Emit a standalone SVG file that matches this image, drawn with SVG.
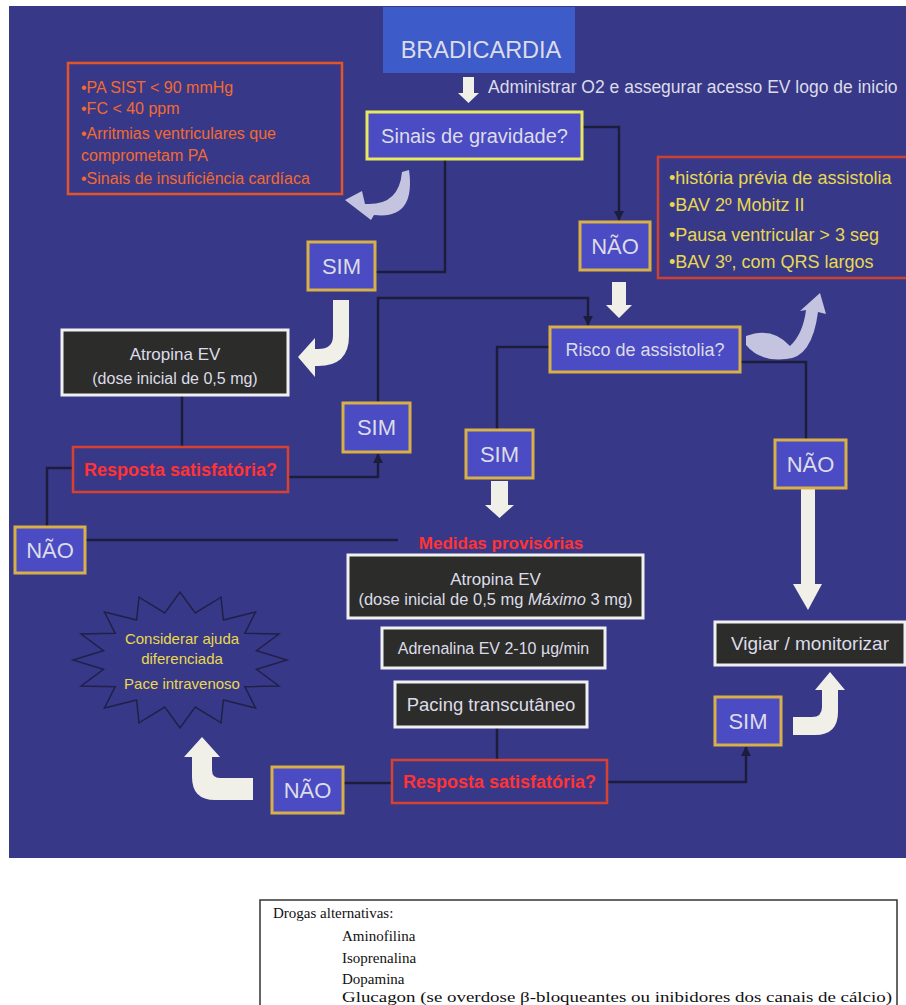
<svg xmlns="http://www.w3.org/2000/svg" width="906" height="1005" viewBox="0 0 906 1005">
<defs>
<style>
.bg{fill:#383888}
.t{font-family:"Liberation Sans",Arial,sans-serif;fill:#dcdce8;text-anchor:middle}
.dec{fill:#4b4bc4;stroke:#d8b048;stroke-width:3}
.dk{fill:#2c2c2a;stroke:#f0f0f0;stroke-width:3}
.rs{fill:none;stroke:#d84030;stroke-width:2.5}
.rt{font-family:"Liberation Sans",Arial,sans-serif;fill:#ff3333;font-weight:bold;text-anchor:middle}
.ln{fill:none;stroke:#1c1c3c;stroke-width:2.5}
.wa{fill:#f0f0e8}
.la{fill:#c4c4e0}
.ot{font-family:"Liberation Sans",Arial,sans-serif;fill:#f26a30;font-size:16px}
.yt{font-family:"Liberation Sans",Arial,sans-serif;fill:#e8d850;font-size:18px}
.st{font-family:"Liberation Sans",Arial,sans-serif;fill:#e8d850;font-size:15px;text-anchor:middle}
.yn{font-size:22px}
.bt{font-family:"Liberation Serif","Times New Roman",serif;fill:#111;font-size:15px}
</style>
<marker id="ah" viewBox="0 0 10 10" refX="9" refY="5" markerWidth="4" markerHeight="4" orient="auto">
<path d="M0,0 L10,5 L0,10 Z" fill="#1c1c3c"/>
</marker>
</defs>
<rect x="0" y="0" width="906" height="1005" fill="#ffffff"/>
<rect class="bg" x="9" y="6" width="897" height="852"/>

<g id="connectors">
<polyline class="ln" points="582,127 619,127 619,220" marker-end="url(#ah)"/>
<polyline class="ln" points="445,159 445,272 375,272"/>
<polyline class="ln" points="182,395 182,447"/>
<polyline class="ln" points="73,468 47,468 47,527"/>
<polyline class="ln" points="85,540 398,540"/>
<polyline class="ln" points="288,477 378,477 378,454" marker-end="url(#ah)"/>
<polyline class="ln" points="378,402 378,298 588,298 588,325" marker-end="url(#ah)"/>
<polyline class="ln" points="550,347 497,347 497,430"/>
<polyline class="ln" points="740,362 806,362 806,440"/>
<polyline class="ln" points="497,727 497,760"/>
<polyline class="ln" points="392,783 343,783"/>
<polyline class="ln" points="607,782 746,782 746,747" marker-end="url(#ah)"/>
<!-- block arrows -->
<path class="wa" d="M463,77 L474,77 L474,93 L479,93 L468.5,103 L458,93 L463,93 Z"/>
<path class="wa" d="M612,282 L626,282 L626,305 L632,305 L619,318 L606,305 L612,305 Z"/>
<path class="wa" d="M491,481 L508,481 L508,505 L514,505 L499.5,518 L485,505 L491,505 Z"/>
<path class="wa" d="M801,488 L815,488 L815,584 L822,584 L808,610 L793,584 L801,584 Z"/>
<!-- curved thick arrows -->
<path class="wa" d="M333,300 L349,300 L349,336 Q349,366 318,366 L315,366 L315,377 L298,357 L315,338 L315,349 L318,349 Q333,349 333,336 Z"/>
<path class="wa" d="M253,778 L253,800 L215,800 Q192,800 192,777 L192,757 L184,757 L202,737 L220,757 L212,757 L212,770 Q212,778 220,778 Z"/>
<path class="wa" d="M793,717 L812,717 Q822,717 822,707 L822,690 L815,690 L830,672 L845,690 L838,690 L838,712 Q838,735 815,735 L793,735 Z"/>
<!-- lavender curved arrows -->
<path class="la" d="M402,172 L409,170 Q416,220 374,215 L371,220 L345,200 L362,191 L365,204 Q399,206 402,172 Z"/>
<path class="la" d="M746,336 Q772,326 790,346 Q803,334 806,310 L800,311 L820,293 L826,314 L818,312 Q812,358 786,359 Q760,362 746,345 Z"/>
</g>

<g id="bradicardia">
<rect x="383" y="7" width="192" height="66" fill="#3d5bc9"/>
<text class="t" x="481" y="58" font-size="23.5" fill="#e0e0ea">BRADICARDIA</text>
</g>
<g id="administrar">
<text font-family="Liberation Sans, Arial, sans-serif" fill="#dcdce8" font-size="17.5" x="488" y="93">Administrar O2 e assegurar acesso EV logo de inicio</text>
</g>

<g id="sinais">
<rect x="367" y="112" width="215" height="47" fill="#4b4bc4" stroke="#e8e860" stroke-width="3"/>
<text class="t" x="474.5" y="143" font-size="20">Sinais de gravidade?</text>
</g>

<g id="criterios-gravidade">
<rect x="68" y="63" width="274" height="131" fill="none" stroke="#e0552a" stroke-width="2.5"/>
<text class="ot" x="81" y="93">•PA SIST &lt; 90 mmHg</text>
<text class="ot" x="81" y="114">•FC &lt; 40 ppm</text>
<text class="ot" x="81" y="139">•Arritmias ventriculares que</text>
<text class="ot" x="81" y="161">comprometam PA</text>
<text class="ot" x="81" y="184">•Sinais de insuficiência cardíaca</text>
</g>

<g id="criterios-assistolia">
<rect x="658" y="157" width="260" height="121" fill="none" stroke="#d04030" stroke-width="2.5"/>
<text class="yt" x="669" y="184">•história prévia de assistolia</text>
<text class="yt" x="669" y="211">•BAV 2º Mobitz II</text>
<text class="yt" x="669" y="241">•Pausa ventricular &gt; 3 seg</text>
<text class="yt" x="669" y="268">•BAV 3º, com QRS largos</text>
</g>

<g id="nao1">
<rect class="dec" x="580" y="222" width="70" height="48"/>
<text class="t yn" x="615" y="254">NÃO</text>
</g>
<g id="sim1">
<rect class="dec" x="308" y="242" width="67" height="48"/>
<text class="t yn" x="341.5" y="274">SIM</text>
</g>

<g id="atropina1">
<rect class="dk" x="62" y="330" width="226" height="65"/>
<text class="t" x="175" y="360" font-size="17">Atropina EV</text>
<text class="t" x="175" y="384" font-size="16">(dose inicial de 0,5 mg)</text>
</g>

<g id="resposta1">
<rect class="rs" x="73" y="447" width="215" height="45"/>
<text class="rt" x="180.5" y="476" font-size="18">Resposta satisfatória?</text>
</g>

<g id="sim2">
<rect class="dec" x="343" y="403" width="67" height="49"/>
<text class="t yn" x="376.5" y="435">SIM</text>
</g>

<g id="risco">
<rect class="dec" x="550" y="327" width="190" height="45"/>
<text class="t" x="645" y="356" font-size="18">Risco de assistolia?</text>
</g>

<g id="sim3">
<rect class="dec" x="466" y="430" width="67" height="48"/>
<text class="t yn" x="499.5" y="462">SIM</text>
</g>

<g id="nao2">
<rect class="dec" x="775" y="440" width="71" height="48"/>
<text class="t yn" x="810.5" y="472">NÃO</text>
</g>

<g id="nao-left">
<rect class="dec" x="15" y="527" width="70" height="46"/>
<text class="t yn" x="50" y="558">NÃO</text>
</g>

<g id="medidas">
<text class="rt" x="501" y="549" font-size="17">Medidas provisórias</text>
</g>

<g id="atropina2">
<rect class="dk" x="348" y="555" width="295" height="63"/>
<text class="t" x="495.5" y="585" font-size="17">Atropina EV</text>
<text class="t" x="495.5" y="605" font-size="16.5">(dose inicial de 0,5 mg <tspan font-style="italic">Máximo</tspan> 3 mg)</text>
</g>

<g id="adrenalina">
<rect class="dk" x="382" y="628" width="223" height="40"/>
<text class="t" x="493.5" y="654" font-size="16">Adrenalina EV 2-10 µg/min</text>
</g>

<g id="pacing">
<rect class="dk" x="395" y="682" width="192" height="45"/>
<text class="t" x="491" y="711" font-size="18.5">Pacing transcutâneo</text>
</g>

<g id="resposta2">
<rect class="rs" x="392" y="760" width="215" height="43"/>
<text class="rt" x="499.5" y="788" font-size="18">Resposta satisfatória?</text>
</g>

<g id="nao3">
<rect class="dec" x="272" y="767" width="71" height="46"/>
<text class="t yn" x="307.5" y="798">NÃO</text>
</g>

<g id="vigiar">
<rect class="dk" x="715" y="622" width="190" height="43"/>
<text class="t" x="810" y="650" font-size="19">Vigiar / monitorizar</text>
</g>

<g id="sim4">
<rect class="dec" x="715" y="697" width="66" height="48"/>
<text class="t yn" x="748" y="729">SIM</text>
</g>

<g id="ajuda">
<polygon points="287,660 256.5,669.4 278.9,686 244.8,686.7 255.6,708.1 223.4,699.9 221,722.8 195.2,707.1 180,728 164.8,707.1 139,722.8 136.6,699.9 104.4,708.1 115.2,686.7 81.1,686 103.5,669.4 73,660 103.5,650.6 81.1,634 115.2,633.3 104.4,611.9 136.6,620.1 139,597.2 164.8,612.9 180,592 195.2,612.9 221,597.2 223.4,620.1 255.6,611.9 244.8,633.3 278.9,634 256.5,650.6" fill="none" stroke="#20204a" stroke-width="1.5"/>
<text class="st" x="182" y="644">Considerar ajuda</text>
<text class="st" x="182" y="664">diferenciada</text>
<text class="st" x="182" y="689">Pace intravenoso</text>
</g>

<g id="drogas">
<rect x="260" y="900" width="637" height="120" fill="#ffffff" stroke="#333" stroke-width="1.5"/>
<text class="bt" x="273" y="918" font-size="14">Drogas alternativas:</text>
<text class="bt" x="342" y="941">Aminofilina</text>
<text class="bt" x="342" y="963">Isoprenalina</text>
<text class="bt" x="342" y="984">Dopamina</text>
<text class="bt" x="342" y="1002" font-size="16" textLength="550" lengthAdjust="spacingAndGlyphs">Glucagon (se overdose β-bloqueantes ou inibidores dos canais de cálcio)</text>
</g>
</svg>
